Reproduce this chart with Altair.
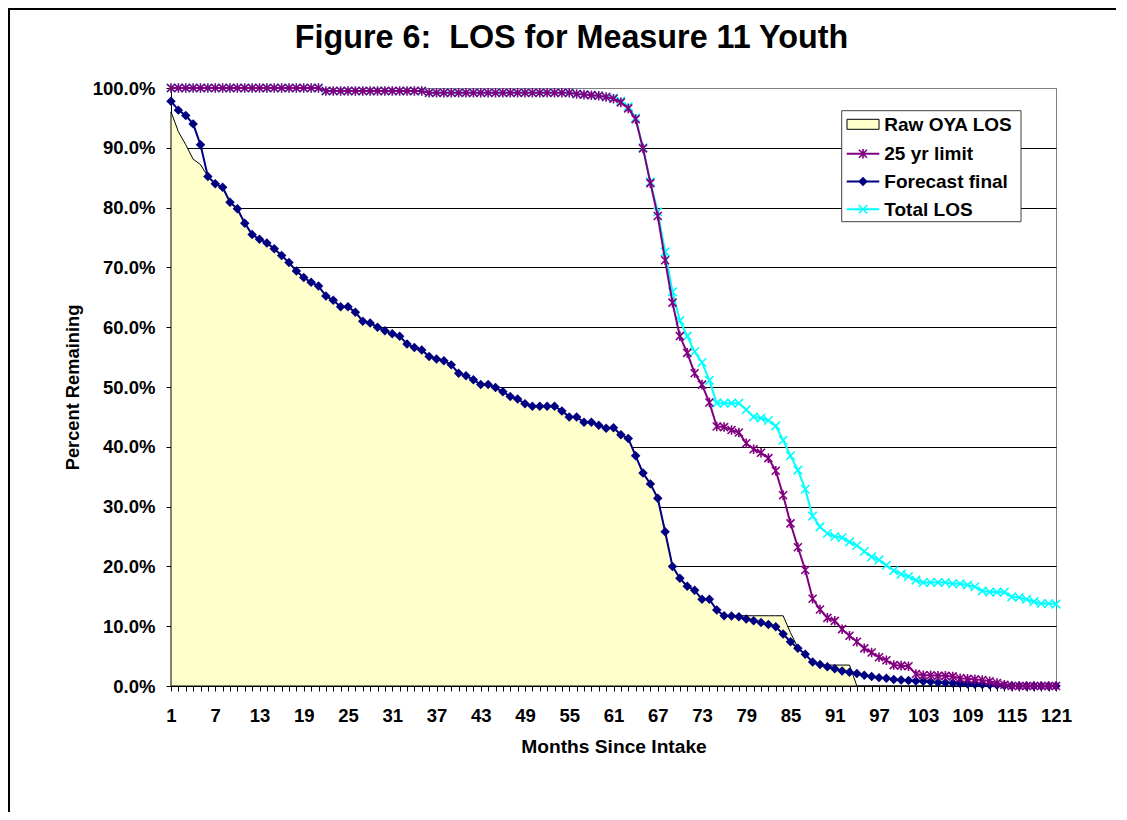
import altair as alt
import pandas as pd

# ---------------- data ----------------
months = list(range(1, 122))

forecast_final = [
    97.8, 96.3, 95.4, 94.0, 90.5, 85.2, 84.0, 83.4, 80.9, 79.8,
    77.4, 75.5, 74.7, 74.1, 73.1, 72.0, 70.8, 69.4, 68.3, 67.5,
    66.9, 65.2, 64.5, 63.4, 63.4, 62.5, 61.0, 60.7, 60.0, 59.4,
    58.9, 58.5, 57.2, 56.6, 56.2, 55.1, 54.7, 54.4, 53.7, 52.3,
    51.9, 51.2, 50.4, 50.4, 49.9, 49.2, 48.4, 48.0, 47.2, 46.8,
    46.8, 46.8, 46.8, 46.0, 45.0, 45.0, 44.1, 44.1, 43.6, 43.1,
    43.2, 42.0, 41.4, 38.5, 35.6, 33.8, 31.4, 25.8, 20.0, 18.0,
    16.7, 16.0, 14.5, 14.5, 12.7, 11.75, 11.7, 11.6, 11.2, 10.9,
    10.6, 10.3, 9.9, 8.7, 7.4, 6.3, 5.3, 4.0, 3.6, 3.2,
    2.9, 2.5, 2.3, 2.1, 1.8, 1.6, 1.4, 1.3, 1.1, 1.0,
    0.9, 0.85, 0.8, 0.7, 0.6, 0.55, 0.5, 0.4, 0.35, 0.3,
    0.25, 0.2, 0.15, 0.1, 0.05, 0.0, 0.0, 0.0, 0.0, 0.0,
    0.0,
]

raw_oya_los = [
    96.0, 92.7, 90.5, 88.1, 87.2, 85.2, 84.0, 83.4, 80.9, 79.8,
    77.4, 75.5, 74.7, 74.1, 73.1, 72.0, 70.8, 69.4, 68.3, 67.5,
    66.9, 65.2, 64.5, 63.4, 63.4, 62.5, 61.0, 60.7, 60.0, 59.4,
    58.9, 58.5, 57.2, 56.6, 56.2, 55.1, 54.7, 54.4, 53.7, 52.3,
    51.9, 51.2, 50.4, 50.4, 49.9, 49.2, 48.4, 48.0, 47.2, 46.8,
    46.8, 46.8, 46.8, 46.0, 45.0, 45.0, 44.1, 44.1, 43.6, 43.1,
    43.2, 42.0, 41.4, 38.5, 35.6, 33.8, 31.4, 25.8, 20.0, 18.0,
    16.7, 16.0, 14.5, 14.5, 12.7, 11.75, 11.75, 11.75, 11.75, 11.75,
    11.75, 11.75, 11.75, 11.75, 8.9, 6.4, 5.3, 4.0, 3.5, 3.5,
    3.5, 3.5, 3.5, 0.0, 0.0, 0.0, 0.0, 0.0, 0.0, 0.0,
    0.0, 0.0, 0.0, 0.0, 0.0, 0.0, 0.0, 0.0, 0.0, 0.0,
    0.0, 0.0, 0.0, 0.0, 0.0, 0.0, 0.0, 0.0, 0.0, 0.0,
    0.0,
]

limit_25_yr = [
    100.0, 100.0, 100.0, 100.0, 100.0, 100.0, 100.0, 100.0, 100.0, 100.0,
    100.0, 100.0, 100.0, 100.0, 100.0, 100.0, 100.0, 100.0, 100.0, 100.0,
    100.0, 99.5, 99.5, 99.5, 99.5, 99.5, 99.5, 99.5, 99.5, 99.5,
    99.5, 99.5, 99.5, 99.5, 99.5, 99.2, 99.2, 99.2, 99.2, 99.2,
    99.2, 99.2, 99.2, 99.2, 99.2, 99.2, 99.2, 99.2, 99.2, 99.2,
    99.2, 99.2, 99.2, 99.2, 99.2, 99.0, 98.9, 98.8, 98.7, 98.5,
    98.2, 97.6, 96.6, 94.8, 89.9, 84.1, 78.6, 71.2, 64.1, 58.5,
    55.7, 52.3, 50.4, 47.4, 43.4, 43.3, 42.8, 42.4, 40.6, 39.6,
    39.0, 38.1, 36.0, 31.9, 27.2, 23.2, 19.4, 14.6, 12.8, 11.4,
    10.9, 9.5, 8.4, 7.4, 6.3, 5.6, 4.8, 4.3, 3.5, 3.4,
    3.3, 2.0, 1.8, 1.8, 1.7, 1.7, 1.6, 1.3, 1.2, 1.1,
    1.0, 0.8, 0.5, 0.2, 0.0, 0.0, 0.0, 0.0, 0.0, 0.0,
    0.0,
]

total_los = [
    100.0, 100.0, 100.0, 100.0, 100.0, 100.0, 100.0, 100.0, 100.0, 100.0,
    100.0, 100.0, 100.0, 100.0, 100.0, 100.0, 100.0, 100.0, 100.0, 100.0,
    100.0, 99.5, 99.5, 99.5, 99.5, 99.5, 99.5, 99.5, 99.5, 99.5,
    99.5, 99.5, 99.5, 99.5, 99.5, 99.2, 99.2, 99.2, 99.2, 99.2,
    99.2, 99.2, 99.2, 99.2, 99.2, 99.2, 99.2, 99.2, 99.2, 99.2,
    99.2, 99.2, 99.2, 99.2, 99.2, 99.0, 98.9, 98.8, 98.7, 98.5,
    98.3, 97.8, 96.9, 95.0, 90.0, 84.3, 79.3, 72.6, 65.9, 61.1,
    58.5, 55.9, 54.1, 51.1, 47.3, 47.3, 47.3, 47.3, 46.2, 45.0,
    44.8, 44.4, 43.5, 41.1, 38.5, 36.1, 32.9, 28.4, 26.6, 25.5,
    25.0, 24.8, 24.1, 23.5, 22.5, 21.6, 21.1, 20.2, 19.3, 18.7,
    18.3, 17.7, 17.3, 17.3, 17.3, 17.3, 17.1, 17.1, 16.9, 16.6,
    15.9, 15.7, 15.7, 15.7, 14.9, 14.8, 14.5, 14.1, 13.8, 13.8,
    13.7,
]

series_names = ["Raw OYA LOS", "25 yr limit", "Forecast final", "Total LOS"]
y_tick_values = [0, 10, 20, 30, 40, 50, 60, 70, 80, 90, 100]
chart_title = "Figure 6:\u00a0 LOS for Measure 11 Youth"
x_title = "Months Since Intake"
y_title = "Percent Remaining"

df = pd.DataFrame({
    "month": months,
    "raw": raw_oya_los,
    "limit": limit_25_yr,
    "forecast": forecast_final,
    "total": total_los,
})

# ---------------- styling ----------------
FONT = "Liberation Sans"
W, H = 885, 598
C_FILL = "#FFFFCC"
C_PURPLE = "#800080"
C_NAVY = "#000080"
C_CYAN = "#00FFFF"
ASTERISK = "M-1,-1L1,1M-1,1L1,-1M0,-1.2L0,1.2"
XMARK = "M-1,-1L1,1M-1,1L1,-1"

xscale = alt.Scale(domain=[1, 121], nice=False, zero=False)
yscale = alt.Scale(domain=[0, 100], nice=False, zero=True)

x_axis = alt.Axis(
    values=months,
    labelExpr="(datum.value - 1) % 6 == 0 ? datum.value : ''",
    labelOverlap=False, labelFlush=False, labelBound=False,
    tickSize=5, tickColor="black", tickWidth=1,
    domainColor="black", domainWidth=1,
    labelFont=FONT, labelFontSize=18.5, labelFontWeight="bold", labelColor="black",
    labelPadding=15.5, labelAngle=0,
    title=x_title, titleFont=FONT, titleFontSize=19.2, titleFontWeight="bold",
    titleColor="black", titlePadding=12,
    grid=False,
)

y_axis = alt.Axis(
    values=y_tick_values,
    labelExpr="format(datum.value, '.1f') + '%'",
    tickSize=5, tickColor="black", tickWidth=1,
    domainColor="black", domainWidth=1,
    labelFont=FONT, labelFontSize=18.5, labelFontWeight="bold", labelColor="black",
    labelPadding=11,
    title=y_title, titleFont=FONT, titleFontSize=18.3, titleFontWeight="bold",
    titleColor="black", titlePadding=10,
    grid=True,
    gridColor=alt.condition("datum.value == 100", alt.value("#808080"), alt.value("black")),
    gridWidth=1, gridOpacity=1,
)

base = alt.Chart(df).encode(x=alt.X("month:Q", scale=xscale, axis=x_axis))

area = base.mark_area(fill=C_FILL, stroke="black", strokeWidth=1, interpolate="linear").encode(
    y=alt.Y("raw:Q", scale=yscale, axis=y_axis)
)

def series(field, color, shape, size, filled):
    line = base.mark_line(color=color, strokeWidth=2).encode(y=alt.Y(f"{field}:Q", scale=yscale))
    if filled:
        pts = base.mark_point(shape=shape, filled=True, color=color, size=size, opacity=1).encode(
            y=alt.Y(f"{field}:Q", scale=yscale))
    else:
        pts = base.mark_point(shape=shape, filled=False, color=color, size=size, strokeWidth=1.6,
                              opacity=1).encode(y=alt.Y(f"{field}:Q", scale=yscale))
    return [line, pts]

layers = [area]
layers += series("total", C_CYAN, XMARK, 72, False)
layers += series("forecast", C_NAVY, "diamond", 90, True)
layers += series("limit", C_PURPLE, ASTERISK, 64, False)

one = pd.DataFrame({"k": [0]})

# outer chart frame (left and top edges; right/bottom lie outside the image)
frame_left = alt.Chart(one).mark_rule(color="black", strokeWidth=2).encode(
    x=alt.value(-162), y=alt.value(-79), y2=alt.value(H + 140))
frame_top = alt.Chart(one).mark_rule(color="black", strokeWidth=2).encode(
    x=alt.value(-163), x2=alt.value(W + 80), y=alt.value(-79))

# title
title = alt.Chart(pd.DataFrame({"t": [chart_title]})).mark_text(
    font=FONT, fontSize=32.3, fontWeight="bold", color="black", align="center", baseline="alphabetic"
).encode(text="t:N", x=alt.value(400.5), y=alt.value(-40.5))

# legend
LX0, LX1, LY0, LY1 = 670.7, 850, 22.7, 133.7
row_y = [36.3, 65.8, 93.5, 121.2]
legend_box = alt.Chart(one).mark_rect(fill="white", stroke="#404040", strokeWidth=1).encode(
    x=alt.value(LX0), x2=alt.value(LX1), y=alt.value(LY0), y2=alt.value(LY1))
legend_layers = [legend_box]
legend_layers.append(alt.Chart(one).mark_rect(fill=C_FILL, stroke="black", strokeWidth=1).encode(
    x=alt.value(676), x2=alt.value(708), y=alt.value(row_y[0] - 5), y2=alt.value(row_y[0] + 5)))
for i, (color, shape, size, filled) in enumerate([
    (C_PURPLE, ASTERISK, 64, False), (C_NAVY, "diamond", 90, True), (C_CYAN, XMARK, 72, False)
], start=1):
    legend_layers.append(alt.Chart(one).mark_rule(color=color, strokeWidth=2).encode(
        x=alt.value(675.7), x2=alt.value(708.3), y=alt.value(row_y[i])))
    if filled:
        legend_layers.append(alt.Chart(one).mark_point(shape=shape, filled=True, color=color, size=size,
                                                      opacity=1).encode(x=alt.value(692), y=alt.value(row_y[i])))
    else:
        legend_layers.append(alt.Chart(one).mark_point(shape=shape, filled=False, color=color, size=size,
                                                      strokeWidth=1.6, opacity=1).encode(
            x=alt.value(692), y=alt.value(row_y[i])))
for i, name in enumerate(series_names):
    legend_layers.append(alt.Chart(pd.DataFrame({"t": [name]})).mark_text(
        font=FONT, fontSize=19, fontWeight="bold", color="black", align="left", baseline="middle"
    ).encode(text="t:N", x=alt.value(713.3), y=alt.value(row_y[i] + 0.5)))

chart = alt.layer(*layers, frame_left, frame_top, title, *legend_layers).properties(
    width=W, height=H,
    padding={"left": 163, "top": 80, "right": 60, "bottom": 126},
    autosize=alt.AutoSizeParams(type="none"),
    background="white",
).configure_view(stroke="#808080", strokeWidth=1)

chart.save("out.html", embed_options={"renderer": "svg", "actions": False})
